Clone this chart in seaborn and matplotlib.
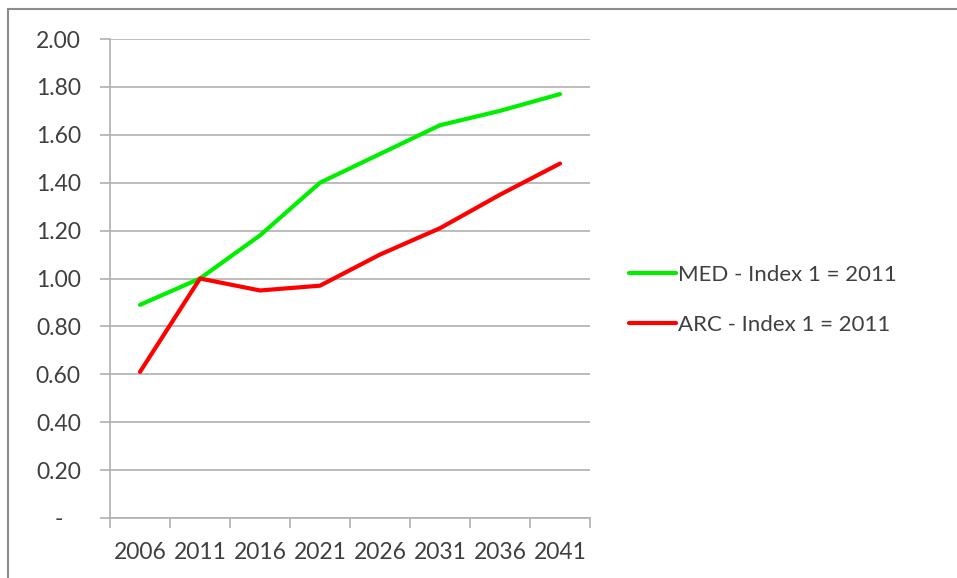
import numpy as np
import pandas as pd
import matplotlib
matplotlib.use("Agg")
import matplotlib.pyplot as plt
from matplotlib.patches import Rectangle
import seaborn as sns

# --- dados ---
years = ["2006", "2011", "2016", "2021", "2026", "2031", "2036", "2041"]
med_index = [0.89, 1.00, 1.18, 1.40, 1.52, 1.64, 1.70, 1.77]
arc_index = [0.61, 1.00, 0.95, 0.97, 1.10, 1.21, 1.35, 1.48]
series_names = ["MED - Index 1 = 2011", "ARC - Index 1 = 2011"]
y_ticks = [0.0, 0.2, 0.4, 0.6, 0.8, 1.0, 1.2, 1.4, 1.6, 1.8, 2.0]

df = pd.DataFrame({
    "year": years * 2,
    "value": med_index + arc_index,
    "series": [series_names[0]] * len(years) + [series_names[1]] * len(years),
})

sns.set_style("white")
plt.rcParams["font.family"] = ["Lato", "DejaVu Sans"]

fig = plt.figure(figsize=(9.57, 5.78), dpi=100)
ax = fig.add_axes([110 / 957, 1 - 518 / 578, 480 / 957, 479 / 578])

# moldura externa (estilo Excel)
fig.patches.append(Rectangle((8 / 957, -0.05), 1.2, 1 - 9 / 578 + 0.05,
                             transform=fig.transFigure, fill=False,
                             edgecolor="#8c8c8c", linewidth=1.5, zorder=0))

sns.lineplot(data=df, x="year", y="value", hue="series",
             palette=["#00ee00", "#ff0000"], linewidth=3.0, ax=ax,
             sort=False)

ax.set_xlim(-0.5, len(years) - 0.5)
ax.set_ylim(0, 2.0)
ax.set_yticks(y_ticks)
ax.set_yticklabels(["-   "] + [f"{v:.2f}" for v in y_ticks[1:]])
ax.yaxis.grid(True, color="#b0b0b0", linewidth=1.2)
ax.set_axisbelow(True)

ax.set_xticks(range(len(years)))
ax.set_xticklabels(years)
ax.set_xticks(np.arange(-0.5, len(years)), minor=True)
ax.tick_params(axis="x", which="major", length=0, pad=17, labelsize=16.5,
               colors="#404040")
ax.tick_params(axis="x", which="minor", length=7, width=1.2,
               color="#b0b0b0", direction="out", bottom=True)
ax.tick_params(axis="y", length=7, width=1.2, color="#b0b0b0",
               direction="out", left=True, pad=14, labelsize=16.5,
               labelcolor="#404040")

for side in ["top", "right"]:
    ax.spines[side].set_visible(False)
for side in ["left", "bottom"]:
    ax.spines[side].set_color("#b0b0b0")
    ax.spines[side].set_linewidth(1.2)

ax.set_xlabel("")
ax.set_ylabel("")

leg = ax.legend(loc="center left", bbox_to_anchor=(1.04, 0.455),
                frameon=False, fontsize=16, handlelength=2.1,
                handletextpad=0.1, labelspacing=1.35)
for t in leg.get_texts():
    t.set_color("#404040")

fig.savefig("out.png", dpi=100)
